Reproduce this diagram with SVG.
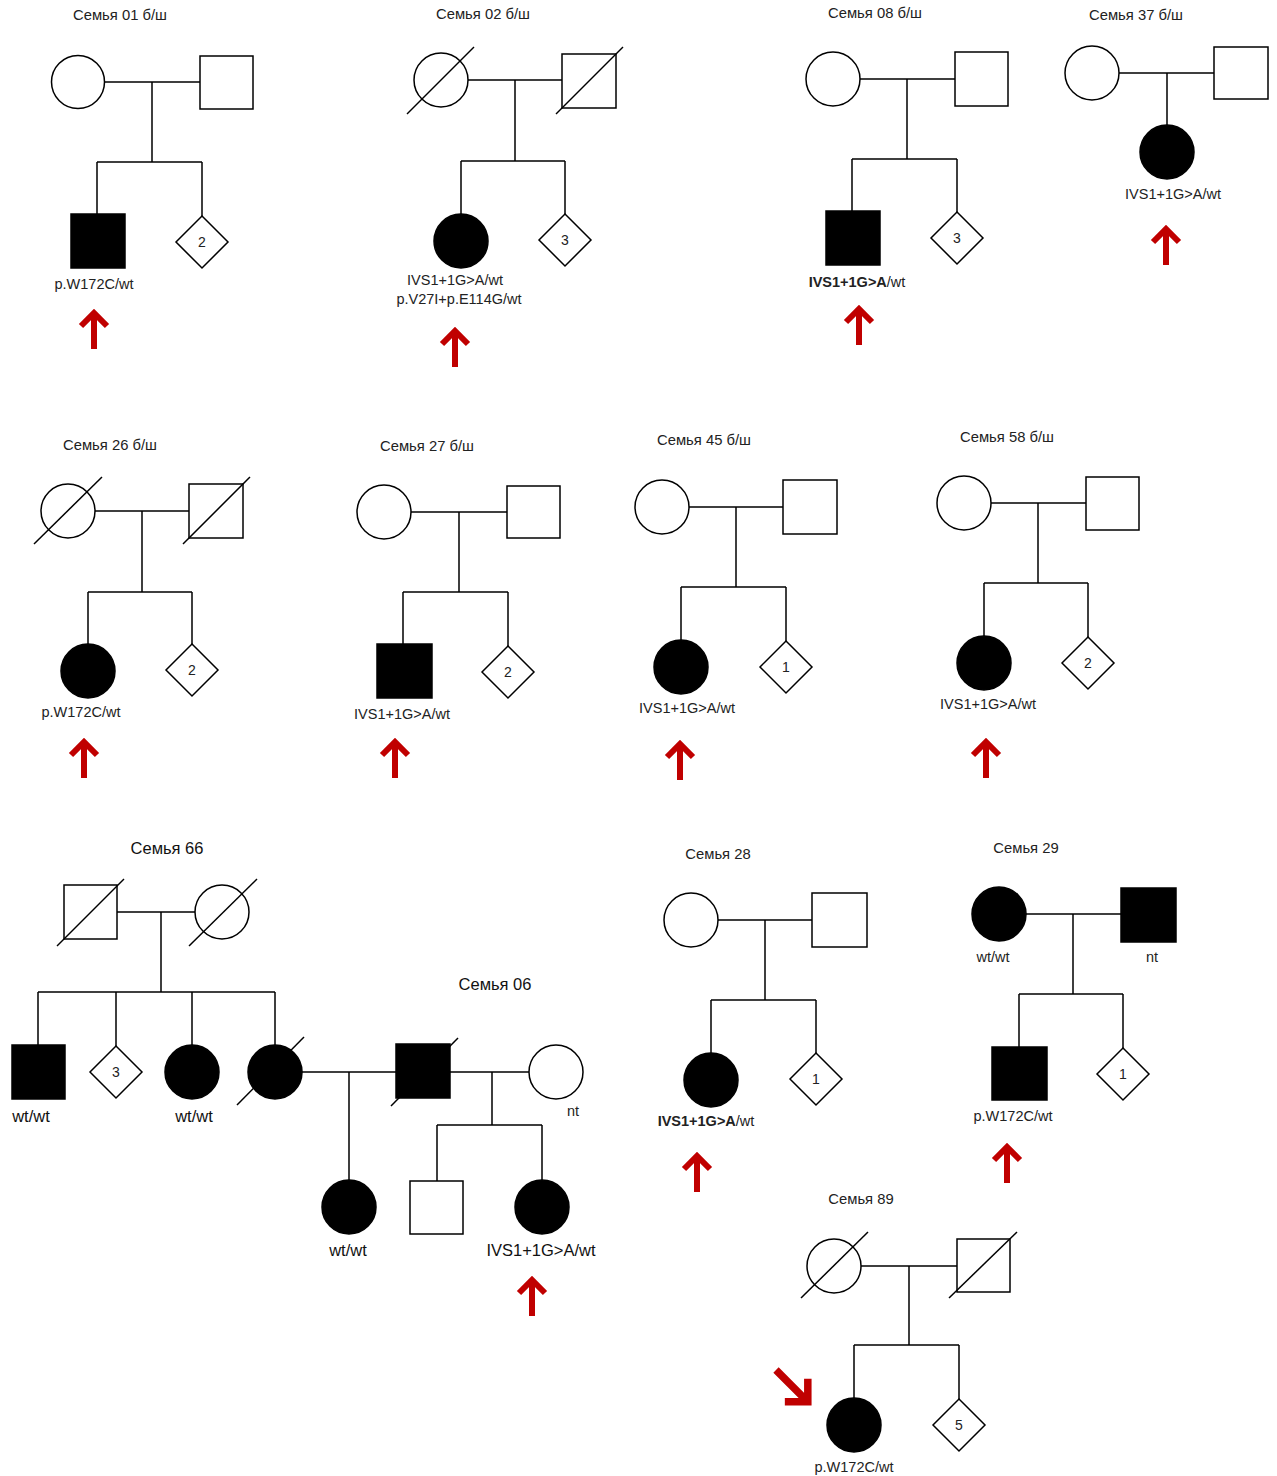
<svg xmlns="http://www.w3.org/2000/svg" width="1277" height="1476" viewBox="0 0 1277 1476">
<style>
.ln{stroke:#000;stroke-width:1.5;fill:none}
.op{fill:#fff;stroke:#000;stroke-width:1.5}
.af{fill:#000;stroke:#000;stroke-width:1.5}
.sl{stroke:#000;stroke-width:1.5}
text{font-family:"Liberation Sans",Arial,sans-serif;fill:#222;text-anchor:middle}
.ti{font-size:14.8px}
.lb{font-size:14.5px}
.bg{font-size:16.5px;fill:#111}
.nm{font-size:14px}
.b{font-weight:bold}
.arr{stroke:#c00000;stroke-width:6;fill:none;stroke-linejoin:miter}
</style>
<defs>
<path id="arr" class="arr" d="M0,0 V-36 M-13,-23 L0,-36 L13,-23"/>
</defs>
<rect width="1277" height="1476" fill="#fff"/>

<g id="connectors">
<path class="ln" d="M105,82 H200 M152,82 V162 M97,162 H202 M97,162 V214 M202,162 V216"/>
<path class="ln" d="M468,80 H562 M515,80 V161 M461,161 H565 M461,161 V214 M565,161 V214"/>
<path class="ln" d="M860,79 H955 M907,79 V159 M852,159 H957 M852,159 V211 M957,159 V212"/>
<path class="ln" d="M1119,73 H1214 M1167,73 V125"/>
<path class="ln" d="M95,511 H189 M142,511 V592 M88,592 H192 M88,592 V644 M192,592 V644"/>
<path class="ln" d="M411,512 H507 M459,512 V592 M403,592 H508 M403,592 V644 M508,592 V646"/>
<path class="ln" d="M689,507 H783 M736,507 V587 M681,587 H786 M681,587 V640 M786,587 V641"/>
<path class="ln" d="M991,503 H1086 M1038,503 V583 M984,583 H1088 M984,583 V636 M1088,583 V637"/>
<path class="ln" d="M117,912 H195 M161,912 V992 M38,992 H275 M38,992 V1045 M116,992 V1046 M192,992 V1045 M275,992 V1045"/>
<path class="ln" d="M302,1072 H396 M349,1072 V1180 M450,1072 H529 M492,1072 V1125 M437,1125 H542 M437,1125 V1181 M542,1125 V1180"/>
<path class="ln" d="M718,920 H812 M765,920 V1000 M711,1000 H816 M711,1000 V1053 M816,1000 V1053"/>
<path class="ln" d="M1026,914 H1121 M1073,914 V994 M1019,994 H1123 M1019,994 V1047 M1123,994 V1048"/>
<path class="ln" d="M861,1266 H957 M909,1266 V1345 M854,1345 H959 M854,1345 V1398 M959,1345 V1399"/>
</g>

<!-- Family 01 -->
<g id="f01">
<text class="ti" x="120" y="20">Семья 01 б/ш</text>
<g id="f01-mother"><circle class="op" cx="78" cy="82" r="26.5"/></g>
<g id="f01-father"><rect class="op" x="200" y="56" width="53" height="53"/></g>
<g id="f01-proband"><rect class="af" x="71" y="214" width="54" height="54"/><text class="lb" x="94" y="289">p.W172C/wt</text><use href="#arr" x="94" y="349"/></g>
<g id="f01-sibs"><polygon class="op" points="202,216 228,242 202,268 176,242"/><text class="nm" x="202" y="247">2</text></g>
</g>

<!-- Family 02 -->
<g id="f02">
<text class="ti" x="483" y="19">Семья 02 б/ш</text>
<g id="f02-mother"><circle class="op" cx="441" cy="80" r="27"/><line class="sl" x1="407" y1="114" x2="474" y2="47"/></g>
<g id="f02-father"><rect class="op" x="562" y="54" width="54" height="54"/><line class="sl" x1="556" y1="114" x2="623" y2="47"/></g>
<g id="f02-proband"><circle class="af" cx="461" cy="241" r="27"/><text class="lb" x="455" y="285">IVS1+1G&gt;A/wt</text><text class="lb" x="459" y="304">p.V27I+p.E114G/wt</text><use href="#arr" x="455" y="367"/></g>
<g id="f02-sibs"><polygon class="op" points="565,214 591,240 565,266 539,240"/><text class="nm" x="565" y="245">3</text></g>
</g>

<!-- Family 08 -->
<g id="f08">
<text class="ti" x="875" y="18">Семья 08 б/ш</text>
<g id="f08-mother"><circle class="op" cx="833" cy="79" r="27"/></g>
<g id="f08-father"><rect class="op" x="955" y="52" width="53" height="54"/></g>
<g id="f08-proband"><rect class="af" x="826" y="211" width="54" height="54"/><text class="lb" x="857" y="287"><tspan class="b">IVS1+1G&gt;A</tspan>/wt</text><use href="#arr" x="859" y="345"/></g>
<g id="f08-sibs"><polygon class="op" points="957,212 983,238 957,264 931,238"/><text class="nm" x="957" y="243">3</text></g>
</g>

<!-- Family 37 -->
<g id="f37">
<text class="ti" x="1136" y="20">Семья 37 б/ш</text>
<g id="f37-mother"><circle class="op" cx="1092" cy="73" r="27"/></g>
<g id="f37-father"><rect class="op" x="1214" y="47" width="54" height="52"/></g>
<g id="f37-proband"><circle class="af" cx="1167" cy="152" r="27"/><text class="lb" x="1173" y="199">IVS1+1G&gt;A/wt</text><use href="#arr" x="1166" y="265"/></g>
</g>

<!-- Family 26 -->
<g id="f26">
<text class="ti" x="110" y="450">Семья 26 б/ш</text>
<g id="f26-mother"><circle class="op" cx="68" cy="511" r="27"/><line class="sl" x1="34" y1="544" x2="102" y2="477"/></g>
<g id="f26-father"><rect class="op" x="189" y="484" width="54" height="54"/><line class="sl" x1="183" y1="544" x2="250" y2="477"/></g>
<g id="f26-proband"><circle class="af" cx="88" cy="671" r="27"/><text class="lb" x="81" y="717">p.W172C/wt</text><use href="#arr" x="84" y="778"/></g>
<g id="f26-sibs"><polygon class="op" points="192,644 218,670 192,696 166,670"/><text class="nm" x="192" y="675">2</text></g>
</g>

<!-- Family 27 -->
<g id="f27">
<text class="ti" x="427" y="451">Семья 27 б/ш</text>
<g id="f27-mother"><circle class="op" cx="384" cy="512" r="27"/></g>
<g id="f27-father"><rect class="op" x="507" y="486" width="53" height="52"/></g>
<g id="f27-proband"><rect class="af" x="377" y="644" width="55" height="54"/><text class="lb" x="402" y="719">IVS1+1G&gt;A/wt</text><use href="#arr" x="395" y="778"/></g>
<g id="f27-sibs"><polygon class="op" points="508,646 534,672 508,698 482,672"/><text class="nm" x="508" y="677">2</text></g>
</g>

<!-- Family 45 -->
<g id="f45">
<text class="ti" x="704" y="445">Семья 45 б/ш</text>
<g id="f45-mother"><circle class="op" cx="662" cy="507" r="27"/></g>
<g id="f45-father"><rect class="op" x="783" y="480" width="54" height="54"/></g>
<g id="f45-proband"><circle class="af" cx="681" cy="667" r="27"/><text class="lb" x="687" y="713">IVS1+1G&gt;A/wt</text><use href="#arr" x="680" y="780"/></g>
<g id="f45-sibs"><polygon class="op" points="786,641 812,667 786,693 760,667"/><text class="nm" x="786" y="672">1</text></g>
</g>

<!-- Family 58 -->
<g id="f58">
<text class="ti" x="1007" y="442">Семья 58 б/ш</text>
<g id="f58-mother"><circle class="op" cx="964" cy="503" r="27"/></g>
<g id="f58-father"><rect class="op" x="1086" y="477" width="53" height="53"/></g>
<g id="f58-proband"><circle class="af" cx="984" cy="663" r="27"/><text class="lb" x="988" y="709">IVS1+1G&gt;A/wt</text><use href="#arr" x="986" y="778"/></g>
<g id="f58-sibs"><polygon class="op" points="1088,637 1114,663 1088,689 1062,663"/><text class="nm" x="1088" y="668">2</text></g>
</g>

<!-- Family 66 -->
<g id="f66">
<text class="bg" x="167" y="854">Семья 66</text>
<g id="f66-father"><rect class="op" x="64" y="885" width="53" height="54"/><line class="sl" x1="57" y1="946" x2="124" y2="879"/></g>
<g id="f66-mother"><circle class="op" cx="222" cy="912" r="27"/><line class="sl" x1="189" y1="946" x2="257" y2="879"/></g>
<g id="f66-son"><rect class="af" x="12" y="1045" width="53" height="54"/><text class="bg" x="31" y="1122">wt/wt</text></g>
<g id="f66-sibs"><polygon class="op" points="116,1046 142,1072 116,1098 90,1072"/><text class="nm" x="116" y="1077">3</text></g>
<g id="f66-daughter"><circle class="af" cx="192" cy="1072" r="27"/><text class="bg" x="194" y="1122">wt/wt</text></g>
<g id="f66-daughter2"><circle class="af" cx="275" cy="1072" r="27"/><line class="sl" x1="237" y1="1105" x2="304" y2="1037"/></g>
</g>

<!-- Family 06 -->
<g id="f06">
<text class="bg" x="495" y="990">Семья 06</text>
<g id="f06-father"><rect class="af" x="396" y="1044" width="54" height="54"/><line class="sl" x1="391" y1="1106" x2="458" y2="1038"/></g>
<g id="f06-mother"><circle class="op" cx="556" cy="1072" r="27"/><text class="lb" x="573" y="1116">nt</text></g>
<g id="f06-halfsister"><circle class="af" cx="349" cy="1207" r="27"/><text class="bg" x="348" y="1256">wt/wt</text></g>
<g id="f06-son"><rect class="op" x="410" y="1181" width="53" height="53"/></g>
<g id="f06-proband"><circle class="af" cx="542" cy="1207" r="27"/><text class="bg" x="541" y="1256">IVS1+1G&gt;A/wt</text><use href="#arr" x="532" y="1316"/></g>
</g>

<!-- Family 28 -->
<g id="f28">
<text class="ti" x="718" y="859">Семья 28</text>
<g id="f28-mother"><circle class="op" cx="691" cy="920" r="27"/></g>
<g id="f28-father"><rect class="op" x="812" y="893" width="55" height="54"/></g>
<g id="f28-proband"><circle class="af" cx="711" cy="1080" r="27"/><text class="lb" x="706" y="1126"><tspan class="b">IVS1+1G&gt;A</tspan>/wt</text><use href="#arr" x="697" y="1192"/></g>
<g id="f28-sibs"><polygon class="op" points="816,1053 842,1079 816,1105 790,1079"/><text class="nm" x="816" y="1084">1</text></g>
</g>

<!-- Family 29 -->
<g id="f29">
<text class="ti" x="1026" y="853">Семья 29</text>
<g id="f29-mother"><circle class="af" cx="999" cy="914" r="27"/><text class="lb" x="993" y="962">wt/wt</text></g>
<g id="f29-father"><rect class="af" x="1121" y="888" width="55" height="54"/><text class="lb" x="1152" y="962">nt</text></g>
<g id="f29-proband"><rect class="af" x="992" y="1047" width="55" height="53"/><text class="lb" x="1013" y="1121">p.W172C/wt</text><use href="#arr" x="1007" y="1183"/></g>
<g id="f29-sibs"><polygon class="op" points="1123,1048 1149,1074 1123,1100 1097,1074"/><text class="nm" x="1123" y="1079">1</text></g>
</g>

<!-- Family 89 -->
<g id="f89">
<text class="ti" x="861" y="1204">Семья 89</text>
<g id="f89-mother"><circle class="op" cx="834" cy="1266" r="27"/><line class="sl" x1="801" y1="1298" x2="868" y2="1232"/></g>
<g id="f89-father"><rect class="op" x="957" y="1239" width="53" height="53"/><line class="sl" x1="949" y1="1298" x2="1017" y2="1232"/></g>
<g id="f89-proband"><circle class="af" cx="854" cy="1425" r="27"/><text class="lb" x="854" y="1472">p.W172C/wt</text><use href="#arr" transform="translate(776,1370) rotate(135) scale(1.25)"/></g>
<g id="f89-sibs"><polygon class="op" points="959,1399 985,1425 959,1451 933,1425"/><text class="nm" x="959" y="1430">5</text></g>
</g>
</svg>
